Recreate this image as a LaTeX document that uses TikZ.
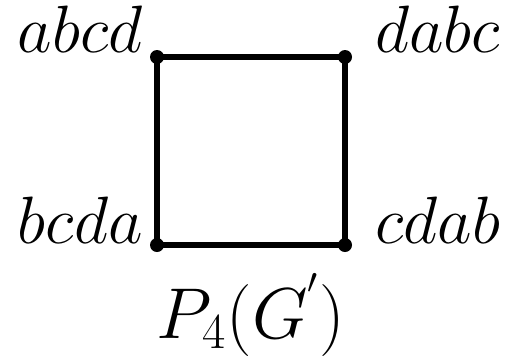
\documentclass[tikz,border=0pt]{standalone}
\usepackage{fix-cm}
\usetikzlibrary{positioning}
\tikzset{
	vertex/.style={circle, fill=black, inner sep=0pt, minimum size=7pt},
	edge/.style={line width=3pt},
	vlabel/.style={inner sep=0pt, font=\fontsize{33.5}{40}\selectfont},
	caption/.style={inner sep=0pt, font=\fontsize{36}{43}\selectfont}
}
\begin{document}
\begin{tikzpicture}[x=0.5pt, y=-0.5pt]
	\useasboundingbox (0,0) rectangle (508,355);
	
	%% ---- Vertices ----
	\node[vertex] (v1) at (157,57)  {};
	\node[vertex] (v2) at (345,57)  {};
	\node[vertex] (v3) at (345,245) {};
	\node[vertex] (v4) at (157,245) {};
	
	%% ---- Edges ----
	\draw[edge] (v1.center) -- (v2.center) -- (v3.center) -- (v4.center) -- cycle;
	
	%% ---- Vertex labels ----
	\node[vlabel, anchor=base east] (l1) at (143,52)  {$abcd$};
	\node[vlabel, anchor=base west] (l2) at (375,52)  {$dabc$};
	\node[vlabel, anchor=base west] (l3) at (375,243) {$cdab$};
	\node[vlabel, anchor=base east] (l4) at (143,243) {$bcda$};
	
	%% ---- Caption ----
	\node[caption, anchor=base] (cap) at (251,338) {$P_4(G^{'})$};
	
\end{tikzpicture}
\end{document}
